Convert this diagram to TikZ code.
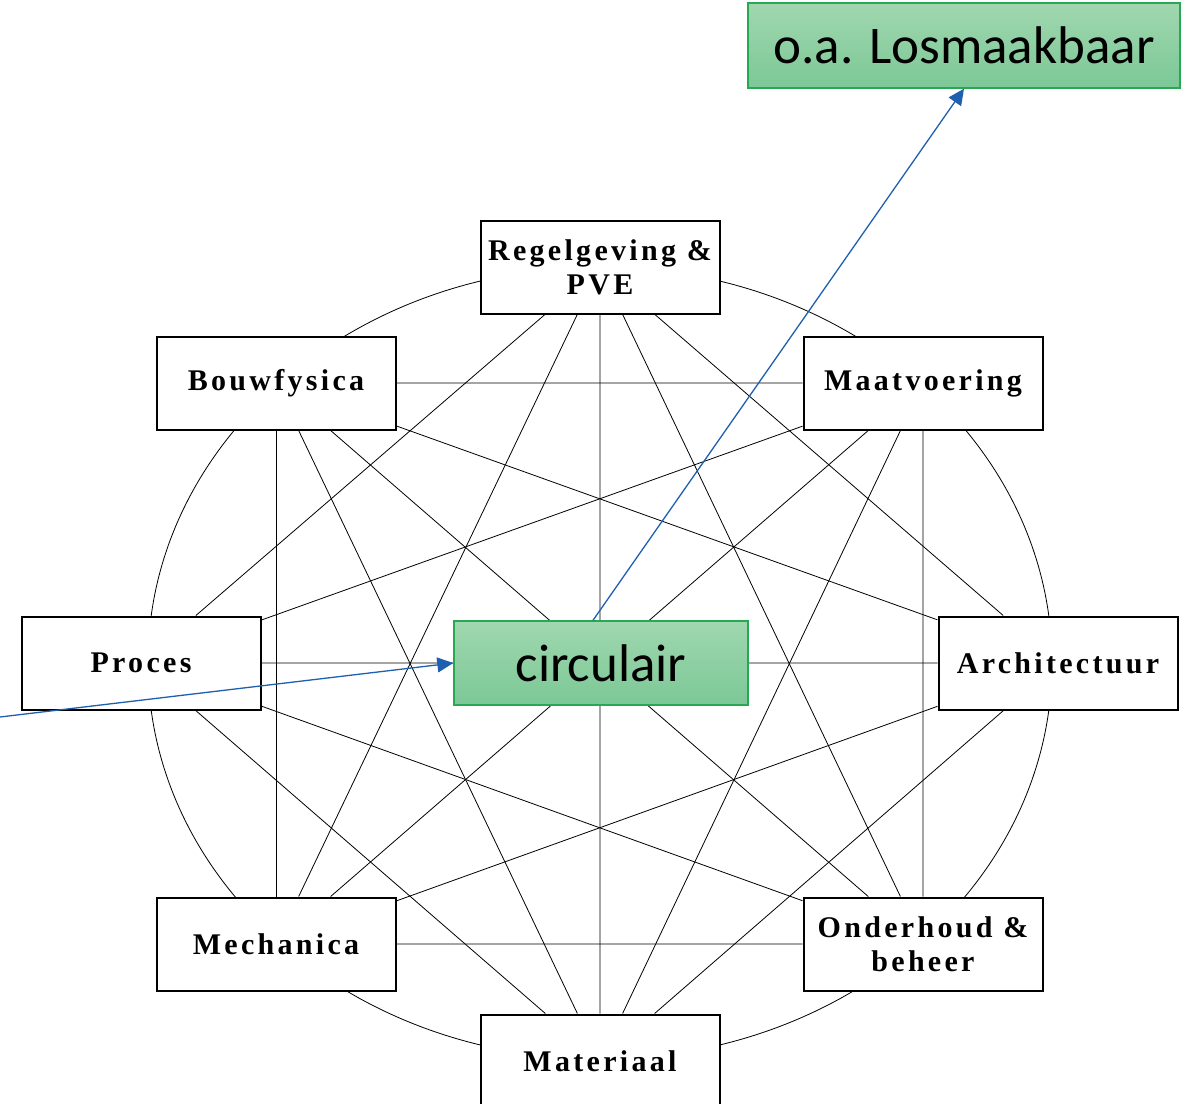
\documentclass[tikz,border=0pt]{standalone}
\usepackage{fontspec}
\setmainfont{Liberation Serif}
\newfontfamily\calibri{Carlito}
\usetikzlibrary{arrows.meta, positioning, backgrounds}
\definecolor{linkblue}{RGB}{30,95,175}
\definecolor{boxgreen}{RGB}{40,167,85}
\definecolor{greentop}{RGB}{160,215,175}
\definecolor{greenbot}{RGB}{124,200,150}

\tikzset{
  topic/.style={draw, line width=1pt, fill=white, minimum width=119.5pt, minimum height=46.5pt, inner sep=0pt, align=center,
    font=\fontsize{15}{17}\selectfont\bfseries\addfontfeature{LetterSpace=11}},
  keybox/.style={draw=boxgreen, line width=0.7pt, top color=greentop, bottom color=greenbot, inner sep=0pt,
    font=\calibri\fontsize{26.5}{32}\selectfont},
  link/.style={-{Triangle[length=8pt, width=7.5pt]}, linkblue, line width=0.65pt}
}

\begin{document}
\begin{tikzpicture}[x=0.5pt, y=-0.5pt]
  \useasboundingbox (0,0) rectangle (1191,1104);

  % the eight topics round the ring
  \node[topic] (reg) at (600,267) {Regelgeving \&\\PVE};
  \node[topic] (bou) at (276,383) {Bouwfysica};
  \node[topic] (maa) at (923,383) {Maatvoering};
  \node[topic] (pro) at (141,663) {Proces};
  \node[topic] (archi) at (1058,663) {Architectuur};
  \node[topic] (mec) at (276,944) {Mechanica};
  \node[topic] (ond) at (923,944) {Onderhoud \&\\beheer};
  \node[topic] (mat) at (600,1061) {Materiaal};

  \begin{scope}[on background layer, line width=1pt]
    \draw (600,663) ellipse [x radius=226pt, y radius=198pt];
    \draw (reg) -- (pro) (reg) -- (mec) (reg) -- (mat) (reg) -- (ond) (reg) -- (archi);
    \draw (maa) -- (bou) (maa) -- (pro) (maa) -- (mec) (maa) -- (mat) (maa) -- (ond);
    \draw (archi) -- (bou) (archi) -- (pro) (archi) -- (mec) (archi) -- (mat);
    \draw (ond) -- (bou) (ond) -- (pro) (ond) -- (mec);
    \draw (mat) -- (bou) (mat) -- (pro);
    \draw (mec) -- (bou);
  \end{scope}

  % green boxes
  \node[keybox, minimum width=147pt, minimum height=42pt] (circ) at (601,663) {circulair};
  \node[keybox, minimum width=216pt, minimum height=42.5pt] (los) at (964,45.5) {o.a. Losmaakbaar};

  \coordinate (feed) at (0,717);
  \draw[link] (feed) -- (circ.west);
  \draw[link] ([xshift=-4pt]circ.north) -- (los.south);
\end{tikzpicture}
\end{document}
